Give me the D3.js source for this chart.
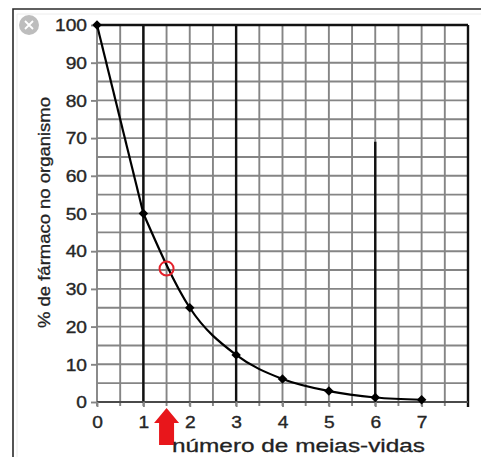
<!DOCTYPE html>
<html>
<head>
<meta charset="utf-8">
<script src="https://cdn.jsdelivr.net/npm/d3@7"></script>
<style>
  html, body { margin: 0; padding: 0; background: #fff; }
  svg { display: block; font-family: Arial, "Liberation Sans", sans-serif; }
</style>
</head>
<body>
<script>
// dados
const halfLives = [0, 1, 2, 3, 4, 5, 6, 7];
const drugPercent = [100, 50, 25, 12.5, 6.1, 2.9, 1.2, 0.6];
const xTicks = [0, 1, 2, 3, 4, 5, 6, 7];
const yTicks = [0, 10, 20, 30, 40, 50, 60, 70, 80, 90, 100];
// linhas verticais grossas: [x, y inicial, y final]
const boldX = [[1, 0, 100], [3, 0, 100], [6, 0, 69]];
const marked = [1.5, 35.4]; // ponto assinalado com o círculo vermelho

const width = 481, height = 457;
const stretch = 1.2; // o original está esticado na horizontal

const svg = d3.select("body").append("svg")
  .attr("width", width).attr("height", height);

// moldura exterior da imagem
svg.append("path")
  .attr("d", `M13,${height} V9 H${width}`)
  .attr("fill", "none").attr("stroke", "#2b2b2b").attr("stroke-width", 1.6);
svg.append("path")
  .attr("d", `M17,${height} V14 H${width}`)
  .attr("fill", "none").attr("stroke", "#ececec").attr("stroke-width", 1);

// ícone de fechar
const closeIcon = svg.append("g").attr("transform", "translate(29,25)");
closeIcon.append("circle").attr("r", 10).attr("fill", "#bdbdbd");
closeIcon.append("path").attr("d", "M-4,-4L4,4M4,-4L-4,4")
  .attr("stroke", "#fff").attr("stroke-width", 1.8);

const x = d3.scaleLinear().domain([0, 8]).range([97, 468]);
const y = d3.scaleLinear().domain([0, 100]).range([402, 25]);

// grelha fina
const grid = svg.append("g").attr("stroke", "#858585").attr("stroke-width", 1.9);
grid.selectAll("line.v")
  .data(d3.range(0, 8.01, 0.5))
  .join("line").attr("class", "v")
  .attr("x1", d => x(d)).attr("x2", d => x(d))
  .attr("y1", y(100)).attr("y2", y(0) + 4);
grid.selectAll("line.h")
  .data(d3.range(0, 100.1, 5))
  .join("line").attr("class", "h")
  .attr("x1", x(0)).attr("x2", x(8))
  .attr("y1", d => y(d)).attr("y2", d => y(d));

// linhas grossas
const bold = svg.append("g").attr("stroke", "#111").attr("stroke-width", 2.4);
bold.selectAll("line")
  .data(boldX)
  .join("line")
  .attr("x1", d => x(d[0])).attr("x2", d => x(d[0]))
  .attr("y1", d => y(d[2])).attr("y2", d => y(d[1]));
bold.append("line").attr("x1", x(0)).attr("x2", x(8)).attr("y1", y(100)).attr("y2", y(100));
bold.append("line").attr("x1", x(8)).attr("x2", x(8)).attr("y1", y(100)).attr("y2", y(0) + 5);
svg.append("line").attr("x1", x(0)).attr("x2", x(8)).attr("y1", y(0)).attr("y2", y(0))
  .attr("stroke", "#4a4a4a").attr("stroke-width", 2);

// eixos
const yAxis = svg.append("g")
  .attr("transform", `translate(${x(0)},0)`)
  .call(d3.axisLeft(y).tickValues(yTicks).tickSize(6).tickPadding(4));
const xAxis = svg.append("g")
  .attr("transform", `translate(0,${y(0)})`)
  .call(d3.axisBottom(x).tickValues(xTicks).tickSize(5));
[yAxis, xAxis].forEach(a => {
  a.select(".domain").remove();
  a.selectAll(".tick line").attr("stroke", "#858585").attr("stroke-width", 1.9);
  a.selectAll(".tick text")
    .attr("fill", "#262626")
    .attr("stroke", "#262626").attr("stroke-width", 0.35)
    .style("font-size", "16px");
});
yAxis.selectAll(".tick text")
  .attr("x", 0).attr("dy", "0.36em")
  .attr("transform", `translate(-10,0) scale(${stretch},1)`);
xAxis.selectAll(".tick text")
  .attr("dy", null).attr("y", 26)
  .attr("transform", `scale(${stretch},1)`);

// curva: primeiro troço recto, depois suave
const pts = halfLives.map((h, i) => [h, drugPercent[i]]);
const line = d3.line().x(d => x(d[0])).y(d => y(d[1]));
svg.append("path")
  .attr("d", line(pts.slice(0, 2)))
  .attr("fill", "none").attr("stroke", "#000").attr("stroke-width", 2.2);
svg.append("path")
  .attr("d", line.curve(d3.curveMonotoneX)(pts.slice(1)))
  .attr("fill", "none").attr("stroke", "#000").attr("stroke-width", 2.2);

// marcadores em losango
svg.append("g").selectAll("path")
  .data(pts)
  .join("path")
  .attr("d", d3.symbol(d3.symbolSquare, 45))
  .attr("transform", d => `translate(${x(d[0])},${y(d[1])}) rotate(45)`)
  .attr("fill", "#000");

// círculo vermelho
svg.append("circle")
  .attr("cx", x(marked[0])).attr("cy", y(marked[1])).attr("r", 7)
  .attr("fill", "none").attr("stroke", "#e3202a").attr("stroke-width", 2);

// seta vermelha
const ax = x(marked[0]), ay = y(0) + 6;
svg.append("path")
  .attr("d", `M${ax},${ay} L${ax + 12.5},${ay + 15} L${ax + 7.5},${ay + 15} L${ax + 7.5},${ay + 37}
    L${ax - 7.5},${ay + 37} L${ax - 7.5},${ay + 15} L${ax - 12.5},${ay + 15} Z`)
  .attr("fill", "#e8161b");

// títulos dos eixos
svg.append("text")
  .attr("x", 172).attr("y", 452)
  .attr("textLength", 253).attr("lengthAdjust", "spacingAndGlyphs")
  .attr("fill", "#222").attr("stroke", "#222").attr("stroke-width", 0.3)
  .style("font-size", "19px")
  .text("número de meias-vidas");
svg.append("text")
  .attr("transform", "translate(50,328) rotate(-90)")
  .attr("textLength", 231).attr("lengthAdjust", "spacingAndGlyphs")
  .attr("fill", "#222").attr("stroke", "#222").attr("stroke-width", 0.3)
  .style("font-size", "17px")
  .text("% de fármaco no organismo");
</script>
</body>
</html>
